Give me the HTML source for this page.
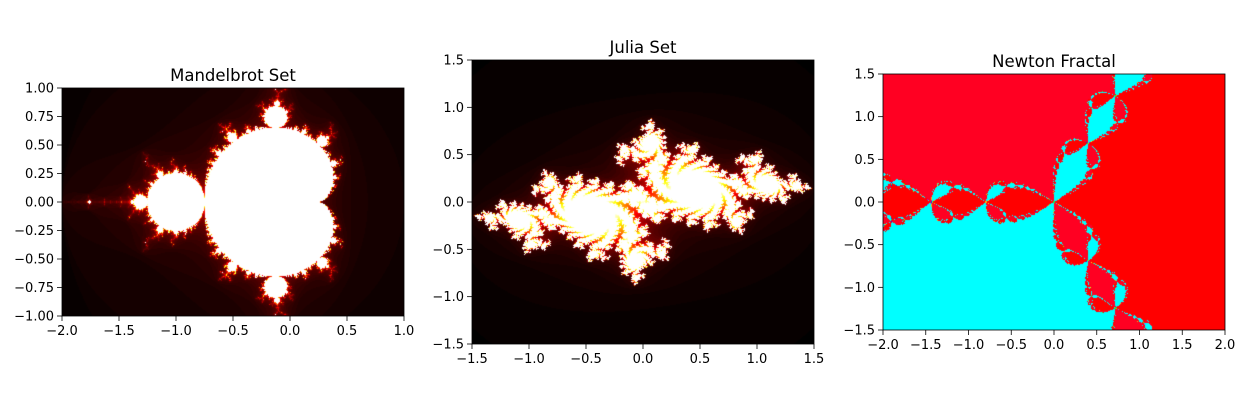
<!DOCTYPE html>
<html><head><meta charset="utf-8">
<style>
body{margin:0;background:#fff;}
#fig{position:relative;width:1245px;height:407px;overflow:hidden;font-family:"DejaVu Sans","Liberation Sans",sans-serif;}
canvas{position:absolute;}
svg{position:absolute;left:0;top:0;}
</style></head>
<body>
<div id="fig">
<canvas id="cm" style="left:62px;top:88px" width="342" height="228"></canvas>
<canvas id="cj" style="left:472px;top:60px" width="342" height="284"></canvas>
<canvas id="cn" style="left:883px;top:74px" width="342" height="256"></canvas>
<svg id="ov" width="1245" height="407"></svg>
</div>
<script>
// parameters
const mandelX = [-2, 1], mandelY = [-1, 1], mandelIter = [100];
const juliaX = [-1.5, 1.5], juliaY = [-1.5, 1.5], juliaC = [-0.7, 0.27015], juliaIter = [100];
const newtonX = [-2, 2], newtonY = [-1.5, 1.5], newtonIter = [50];
const mandelXTicks = [-2, -1.5, -1, -0.5, 0, 0.5, 1];
const mandelYTicks = [-1, -0.75, -0.5, -0.25, 0, 0.25, 0.5, 0.75, 1];
const juliaTicks = [-1.5, -1, -0.5, 0, 0.5, 1, 1.5];
const newtonXTicks = [-2, -1.5, -1, -0.5, 0, 0.5, 1, 1.5, 2];
const newtonYTicks = [-1.5, -1, -0.5, 0, 0.5, 1, 1.5];
const titles = ["Mandelbrot Set", "Julia Set", "Newton Fractal"];

function hot(t){t=Math.max(0,Math.min(1,t));
 return [255*Math.min(1,t/0.365),255*Math.max(0,Math.min(1,(t-0.365)/0.375)),255*Math.max(0,Math.min(1,(t-0.74)/0.26))];}
function hsv(h){h=((h%1)+1)%1;const i=Math.floor(h*6),f=h*6-i;const q=1-f;
 const c=[[1,f,0],[q,1,0],[0,1,f],[0,q,1],[f,0,1],[1,0,q]][i];return c.map(v=>v*255);}

function render(id,xr,yr,flip,fn){
 const cv=document.getElementById(id),ctx=cv.getContext('2d'),W=cv.width,H=cv.height;
 const img=ctx.createImageData(W,H);
 for(let j=0;j<H;j++){const fr=(j+0.5)/H;const y=flip?yr[0]+fr*(yr[1]-yr[0]):yr[1]-fr*(yr[1]-yr[0]);
  for(let i=0;i<W;i++){const x=xr[0]+(i+0.5)/W*(xr[1]-xr[0]);
   const c=fn(x,y),k=(j*W+i)*4;img.data[k]=c[0];img.data[k+1]=c[1];img.data[k+2]=c[2];img.data[k+3]=255;}}
 ctx.putImageData(img,0,0);
}
render('cm',mandelX,mandelY,false,(cx,cy)=>{let x=0,y=0,n=0,M=mandelIter[0];
 while(n<M&&x*x+y*y<=4){const t=x*x-y*y+cx;y=2*x*y+cy;x=t;n++;}return hot(n/M);});
render('cj',juliaX,juliaY,true,(x,y)=>{let n=0,M=juliaIter[0];
 while(n<M&&x*x+y*y<=4){const t=x*x-y*y+juliaC[0];y=2*x*y+juliaC[1];x=t;n++;}return hot(n/M);});
render('cn',newtonX,newtonY,false,(x,y)=>{let n=0,M=newtonIter[0];
 for(;n<M;n++){const x2=x*x-y*y,y2=2*x*y;const fx=x2*x-y2*y-1,fy=x2*y+y2*x;
  const dx=3*x2,dy=3*y2;const d=dx*dx+dy*dy;if(d===0)break;
  const qx=(fx*dx+fy*dy)/d,qy=(fy*dx-fx*dy)/d;x-=qx;y-=qy;if(qx*qx+qy*qy<1e-12)break;}
 if(n>22&&n<M)return hsv(n*0.13);
 if(x>0)return [255,0,0];if(y>0)return [255,0,34];return [0,255,255];});

const ov=document.getElementById('ov');const NS='http://www.w3.org/2000/svg';
function el(tag,a,txt){const e=document.createElementNS(NS,tag);for(const k in a)e.setAttribute(k,a[k]);if(txt!==undefined)e.textContent=txt;ov.appendChild(e);return e;}
function fmt(v,d){let s=v.toFixed(d);return s.replace('-','\u2212');}
function axes(L,T,W,H,xr,yr,xt,yt,xd,yd,title,nm){
 const sx=v=>L+(v-xr[0])/(xr[1]-xr[0])*W, sy=v=>T+H-(v-yr[0])/(yr[1]-yr[0])*H;
 const f=el('rect',{x:L,y:T,width:W,height:H,fill:'none',stroke:'#000','stroke-width':0.8});
 
 xt.forEach(v=>{const x=sx(v);el('line',{x1:x,x2:x,y1:T+H,y2:T+H+5,stroke:'#000','stroke-width':0.8});
  const t=el('text',{x:x,y:T+H+19,'text-anchor':'middle','font-size':13},fmt(v,xd));
  });
 yt.forEach(v=>{const y=sy(v);el('line',{x1:L-5,x2:L,y1:y,y2:y,stroke:'#000','stroke-width':0.8});
  const t=el('text',{x:L-8,y:y+4.5,'text-anchor':'end','font-size':13},fmt(v,yd));
  });
 const tt=el('text',{x:L+W/2,y:T-7,'text-anchor':'middle','font-size':16.5},title);
 
}
axes(62,88,342,228,mandelX,mandelY,mandelXTicks,mandelYTicks,1,2,titles[0],'mandelbrot');
axes(472,60,342,284,juliaX,juliaY,juliaTicks,juliaTicks,1,1,titles[1],'julia');
axes(883,74,342,256,newtonX,newtonY,newtonXTicks,newtonYTicks,1,1,titles[2],'newton');
</script>
</body></html>
